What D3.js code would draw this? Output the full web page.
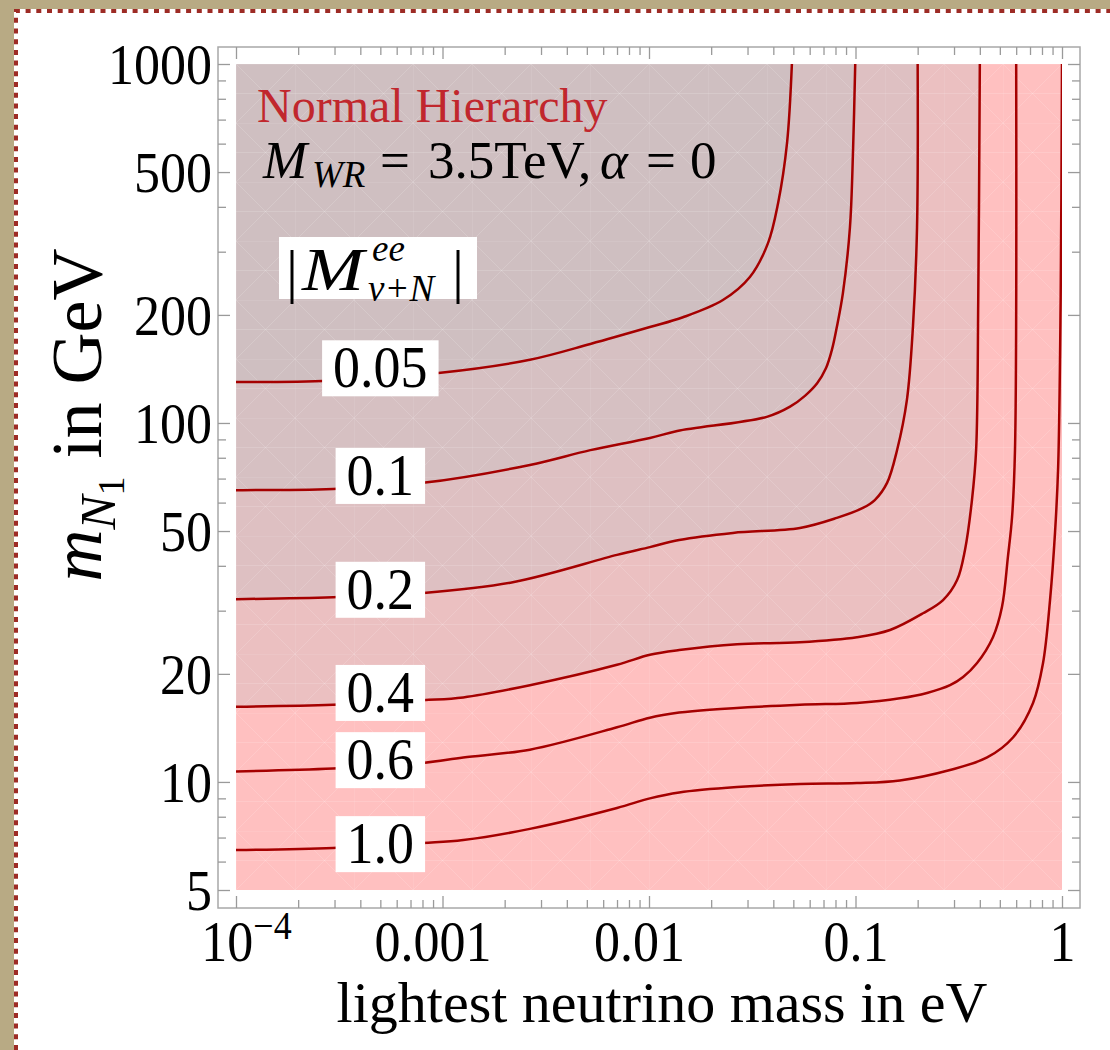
<!DOCTYPE html>
<html>
<head>
<meta charset="utf-8">
<script src="https://cdn.jsdelivr.net/npm/d3@7"></script>
<style>
html, body { margin: 0; padding: 0; background: #b8aa84; }
svg { display: block; }
text { font-family: "Liberation Serif", "Times New Roman", serif; }
</style>
</head>
<body>
<svg id="chart" width="1110" height="1050"></svg>
<script>
'use strict';

// contour levels of |M^ee_{nu+N}|
const levels = ["0.05", "0.1", "0.2", "0.4", "0.6", "1.0"];

// traced contour points: [lightest neutrino mass (eV), m_N1 (GeV)]
const contour005 = [[1e-4,130],[2.85e-4,131],[9.8e-4,138],[2.65e-3,150],[5.2e-3,166],[0.0101,185],[0.0146,197],[0.0228,220],[0.0308,255],[0.0377,317],[0.0422,410],[0.0466,602],[0.0492,1000]];
const contour01 = [[1e-4,65],[2.95e-4,65.5],[8.05e-4,68.1],[2.65e-3,76.4],[5.2e-3,84],[0.0101,90.8],[0.0137,95],[0.0372,104],[0.0482,111],[0.0569,119],[0.0652,129],[0.0719,142],[0.0769,160],[0.0812,185],[0.0869,230],[0.094,351],[0.0973,575],[0.0997,1000]];
const contour02 = [[1e-4,32.3],[2.95e-4,32.7],[8.05e-4,33.6],[2.19e-3,36.0],[7.0e-3,42.9],[0.0101,45.1],[0.014,47.2],[0.0255,49.4],[0.0538,51.0],[0.0812,54.4],[0.1086,58.0],[0.124,61],[0.1422,68.1],[0.159,84.1],[0.1774,116],[0.1897,185],[0.1986,351],[0.2,1000]];
const contour04 = [[1e-4,16.2],[2.95e-4,16.4],[8.05e-4,16.9],[1.26e-3,17.2],[2.65e-3,18.6],[7.0e-3,21.2],[0.0101,22.6],[0.014,23.3],[0.0267,24.2],[0.0538,24.5],[0.1016,25.3],[0.147,26.5],[0.2124,29.5],[0.2655,32.1],[0.3105,36.5],[0.339,44.3],[0.3664,61],[0.3838,84],[0.393,220],[0.4,1000]];
const contour06 = [[1e-4,10.7],[2.95e-4,10.9],[8.05e-4,11.3],[1.26e-3,11.7],[2.65e-3,12.3],[7.0e-3,14.2],[0.0101,15.1],[0.014,15.6],[0.0197,15.9],[0.0538,16.4],[0.1016,16.6],[0.164,17.1],[0.222,17.7],[0.287,18.6],[0.332,19.6],[0.387,21.4],[0.463,25.3],[0.512,30.7],[0.547,42.3],[0.573,54.7],[0.592,84],[0.6,1000]];
const contour10 = [[1e-4,6.46],[2.95e-4,6.55],[8.05e-4,6.76],[1.26e-3,6.89],[2.65e-3,7.40],[7.0e-3,8.46],[0.0101,9.0],[0.014,9.35],[0.0267,9.68],[0.0538,9.87],[0.1016,9.93],[0.164,10.1],[0.287,10.8],[0.434,11.7],[0.579,13.3],[0.724,16.6],[0.809,21.4],[0.875,32.1],[0.925,49.4],[0.958,75.4],[0.985,220],[1.0,1000]];
const contours = [contour005, contour01, contour02, contour04, contour06, contour10];

// where the inline level labels sit (eV, GeV)
const labelX = 5.0e-4;
const labelY = [142, 71.2, 34.3, 17.7, 11.5, 6.71];

// axes
const xMajor = [1e-4, 1e-3, 1e-2, 1e-1, 1];
const xTickLabels = ["10^-4", "0.001", "0.01", "0.1", "1"];
const yMajor = [5, 10, 20, 50, 100, 200, 500, 1000];
const yTickLabels = ["5", "10", "20", "50", "100", "200", "500", "1000"];

// region shading, from the |M| < 0.05 corner outward (the rest is plain pink)
const regionFill = ["#cfbfc1", "#d6c0c2", "#dec0c2", "#ebc0c1"];
const BASE_PINK = "#ffc0c0";
const LINE_RED = "#a50000";

const X0 = 236, X1 = 1062, Y0 = 64, Y1 = 890;
const x = d3.scaleLog().domain([1e-4, 1]).range([X0, X1]);
const y = d3.scaleLog().domain([5, 1000]).range([Y1, Y0]);

const svg = d3.select("#chart");

// page background + white card with dotted red border
svg.append("rect").attr("width", 1110).attr("height", 1050).attr("fill", "#b8aa84");
svg.append("rect").attr("x", 14).attr("y", 9).attr("width", 1110).attr("height", 1060).attr("fill", "#fff");
svg.append("path")
	.attr("d", "M16,1050V11H1110")
	.attr("fill", "none")
	.attr("stroke", "#9d2b25")
	.attr("stroke-width", 4)
	.attr("stroke-dasharray", "5 5.7");

const defs = svg.append("defs");
const pat = defs.append("pattern")
	.attr("id", "tex")
	.attr("patternUnits", "userSpaceOnUse")
	.attr("x", X0).attr("y", Y0)
	.attr("width", 59).attr("height", 59);
pat.append("path")
	.attr("d", "M0,0V59M0,0H59M0,29.5H59M0,0L59,59M59,0L0,59")
	.attr("fill", "none")
	.attr("stroke", "#fff")
	.attr("stroke-opacity", 0.15)
	.attr("stroke-width", 1);
defs.append("clipPath").attr("id", "plotclip")
	.append("rect").attr("x", X0).attr("y", Y0).attr("width", X1 - X0).attr("height", Y1 - Y0);

// frame
svg.append("rect")
	.attr("x", 218).attr("y", 47).attr("width", 862).attr("height", 861)
	.attr("fill", "none").attr("stroke", "#a8a8a8").attr("stroke-width", 1.5);

const plot = svg.append("g").attr("clip-path", "url(#plotclip)");
plot.append("rect")
	.attr("x", X0).attr("y", Y0).attr("width", X1 - X0).attr("height", Y1 - Y0)
	.attr("fill", BASE_PINK);

const line = d3.line()
	.x(d => x(d[0]))
	.y(d => y(d[1]))
	.curve(d3.curveCatmullRom.alpha(0.5));

// shade the region above/left of each of the first four contours
[3, 2, 1, 0].forEach(i => {
	plot.append("path")
		.attr("d", line(contours[i]) + `L${x(1e-4)},${y(1000)}Z`)
		.attr("fill", regionFill[i]);
});

plot.append("rect")
	.attr("x", X0).attr("y", Y0).attr("width", X1 - X0).attr("height", Y1 - Y0)
	.attr("fill", "url(#tex)");

plot.selectAll("path.contour")
	.data(contours)
	.join("path")
	.attr("class", "contour")
	.attr("d", line)
	.attr("fill", "none")
	.attr("stroke", LINE_RED)
	.attr("stroke-width", 2.5);

// inline level labels on white boxes
const STRETCH = 1.1;
const labelG = svg.append("g");
levels.forEach((lv, i) => {
	const cx = x(labelX), cy = y(labelY[i]);
	const g = labelG.append("g");
	const box = g.append("rect").attr("fill", "#fff");
	const t = g.append("text")
		.attr("transform", `translate(${cx},${cy + 19}) scale(1,${STRETCH})`)
		.attr("text-anchor", "middle")
		.attr("font-size", 54)
		.text(lv);
	const w = t.node().getComputedTextLength() + 22;
	box.attr("x", cx - w / 2).attr("y", cy - 28).attr("width", w).attr("height", 56);
});

// ticks
function styleAxis(g) {
	g.select(".domain").remove();
	g.selectAll(".tick line").attr("stroke", "#9a9a9a").attr("stroke-width", 1.3);
	g.selectAll(".tick text").attr("fill", "#000").attr("font-family", "Liberation Serif, serif");
}

const xMinor = [], yMinor = [];
for (let e = -4; e < 0; e++) for (let m = 2; m <= 9; m++) xMinor.push(m * Math.pow(10, e));
for (let m = 6; m <= 9; m++) yMinor.push(m);
for (let m = 3; m <= 9; m++) if (m !== 5) yMinor.push(m * 10);
for (let m = 3; m <= 9; m++) if (m !== 5) yMinor.push(m * 100);

const bottom = svg.append("g").attr("transform", "translate(0,908)")
	.call(d3.axisBottom(x).tickValues(xMajor).tickSizeInner(-12).tickSizeOuter(0).tickPadding(14)
		.tickFormat((d, i) => xTickLabels[i]))
	.call(styleAxis);
bottom.selectAll(".tick text").attr("font-size", 52)
	.attr("transform", `scale(1,${STRETCH})`).attr("y", 11).attr("dy", "0.71em");
bottom.selectAll(".tick text").filter(d => d === 1e-4).each(function () {
	const t = d3.select(this).text("");
	t.append("tspan").text("10");
	t.append("tspan").attr("dy", -20).attr("font-size", 36).text("\u22124");
	t.attr("x", 10);
});
bottom.selectAll(".tick text").filter(d => d === 1e-3 || d === 1e-2).attr("x", -10);
svg.append("g").attr("transform", "translate(0,908)")
	.call(d3.axisBottom(x).tickValues(xMinor).tickSizeInner(-8).tickSizeOuter(0).tickFormat(""))
	.call(styleAxis);
svg.append("g").attr("transform", "translate(0,47)")
	.call(d3.axisTop(x).tickValues(xMajor).tickSizeInner(-12).tickSizeOuter(0).tickFormat(""))
	.call(styleAxis);
svg.append("g").attr("transform", "translate(0,47)")
	.call(d3.axisTop(x).tickValues(xMinor).tickSizeInner(-8).tickSizeOuter(0).tickFormat(""))
	.call(styleAxis);

const left = svg.append("g").attr("transform", "translate(218,0)")
	.call(d3.axisLeft(y).tickValues(yMajor).tickSizeInner(-12).tickSizeOuter(0).tickPadding(6)
		.tickFormat((d, i) => yTickLabels[i]))
	.call(styleAxis);
left.selectAll(".tick text").attr("font-size", 52)
	.attr("transform", `scale(1,${STRETCH})`).attr("dy", "0.34em");
svg.append("g").attr("transform", "translate(218,0)")
	.call(d3.axisLeft(y).tickValues(yMinor).tickSizeInner(-8).tickSizeOuter(0).tickFormat(""))
	.call(styleAxis);
svg.append("g").attr("transform", "translate(1080,0)")
	.call(d3.axisRight(y).tickValues(yMajor).tickSizeInner(-12).tickSizeOuter(0).tickFormat(""))
	.call(styleAxis);
svg.append("g").attr("transform", "translate(1080,0)")
	.call(d3.axisRight(y).tickValues(yMinor).tickSizeInner(-8).tickSizeOuter(0).tickFormat(""))
	.call(styleAxis);

// axis titles
svg.append("text")
	.attr("x", 662).attr("y", 1022)
	.attr("text-anchor", "middle")
	.attr("font-size", 58)
	.text("lightest neutrino mass in eV");

const ylab = svg.append("text")
	.attr("transform", "translate(101,415) rotate(-90)")
	.attr("text-anchor", "middle")
	.attr("font-size", 72);
ylab.append("tspan").attr("font-style", "italic").text("m");
ylab.append("tspan").attr("font-style", "italic").attr("font-size", 51).attr("dy", 14).text("N");
ylab.append("tspan").attr("font-size", 38).attr("dy", 9).text("1");
ylab.append("tspan").attr("dy", -23).text(" in GeV");

// annotations
svg.append("text")
	.attr("x", 257).attr("y", 122)
	.attr("font-size", 48)
	.attr("fill", "#c1272d")
	.text("Normal Hierarchy");

const mw = svg.append("text").attr("y", 178).attr("font-size", 53);
mw.append("tspan").attr("x", 263).attr("font-style", "italic").text("M");
mw.append("tspan").attr("x", 312).attr("font-style", "italic").attr("font-size", 37).attr("dy", 9).text("WR");
mw.append("tspan").attr("x", 380).attr("dy", -9).text("=");
mw.append("tspan").attr("x", 428).text("3.5TeV,");
mw.append("tspan").attr("x", 600).attr("font-style", "italic").text("\u03b1");
mw.append("tspan").attr("x", 646).text("=");
mw.append("tspan").attr("x", 690).text("0");

// legend box |M^ee_{nu+N}|
svg.append("rect").attr("x", 279).attr("y", 237).attr("width", 198).attr("height", 62).attr("fill", "#fff");
svg.append("text").attr("x", 286).attr("y", 291).attr("font-size", 60).text("|");
svg.append("text").attr("x", 302).attr("y", 290).attr("font-size", 62)
	.attr("font-style", "italic").attr("textLength", 62).attr("lengthAdjust", "spacingAndGlyphs").text("M");
svg.append("text").attr("x", 372).attr("y", 261).attr("font-size", 37)
	.attr("font-style", "italic").text("ee");
svg.append("text").attr("x", 368).attr("y", 301).attr("font-size", 37)
	.attr("font-style", "italic").text("\u03bd+N");
svg.append("text").attr("x", 452).attr("y", 291).attr("font-size", 60).text("|");
</script>
</body>
</html>
